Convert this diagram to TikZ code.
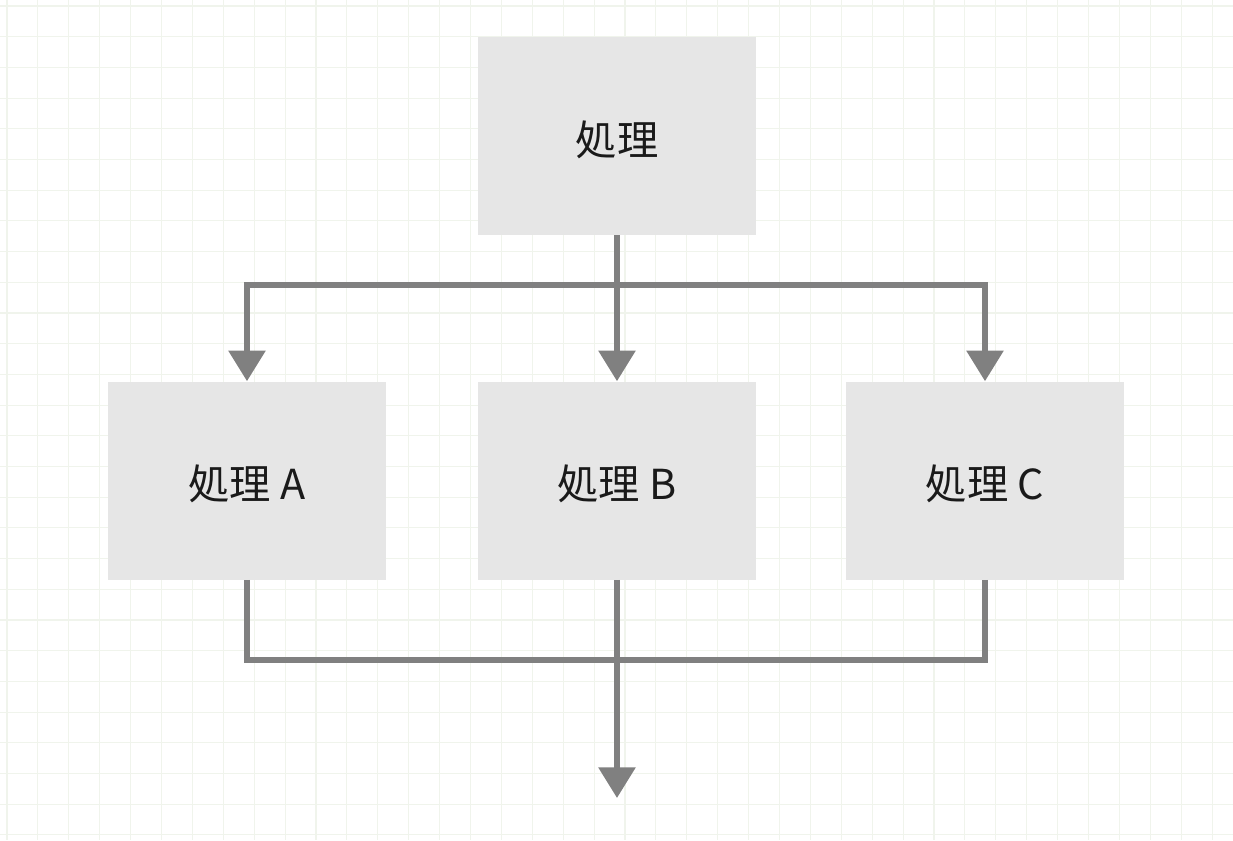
\documentclass[tikz,border=0pt]{standalone}
\usepackage{fontspec}
\usetikzlibrary{arrows.meta,positioning,calc}
\newfontfamily\jpfont{Noto Sans CJK JP}
\definecolor{boxfill}{RGB}{230,230,230}
\definecolor{wire}{RGB}{128,128,128}
\definecolor{gridc}{RGB}{240,244,236}
\definecolor{ink}{RGB}{26,26,26}
\tikzset{box/.style={fill=boxfill,inner sep=0pt,minimum width=208.5pt,minimum height=148.5pt,align=center,text=ink,text height=30pt,text depth=1pt,font=\jpfont\fontsize{31}{37}\selectfont},
  link/.style={line width=4.5pt,wire},
  flow/.style={-{Triangle[length=23pt,width=27pt]},line width=4.5pt,wire},
  gridline/.style={gridc,line width=0.8pt}}

\begin{document}
\begin{tikzpicture}[x=0.75pt,y=-0.75pt]
\useasboundingbox (0,0) rectangle (1233,840);
\fill[white] (0,0) rectangle (1233,840);
% background grid
\foreach \gx in {7,37.9,...,1233} \draw[gridline] (\gx,0) -- (\gx,840);
\foreach \gy in {6,36.7,...,840} \draw[gridline] (0,\gy) -- (1233,\gy);
\node[box] (top) at (617,136) {処理};
\node[box] (a) at (247,480.5) {処理 A};
\node[box] (b) at (617,480.5) {処理 B};
\node[box] (c) at (985,480.5) {処理 C};
\coordinate (split) at (617,285);
\coordinate (merge) at (617,660);
\coordinate (out) at (617,798);
\draw[link] (top) -- (split);
\draw[flow] (split) -| (a.north); \draw[flow] (split) -- (b); \draw[flow] (split) -| (c.north);
\draw[link] (a.south) |- (merge); \draw[link] (c.south) |- (merge);
\draw[flow] (b) -- (out);
\end{tikzpicture}
\end{document}
